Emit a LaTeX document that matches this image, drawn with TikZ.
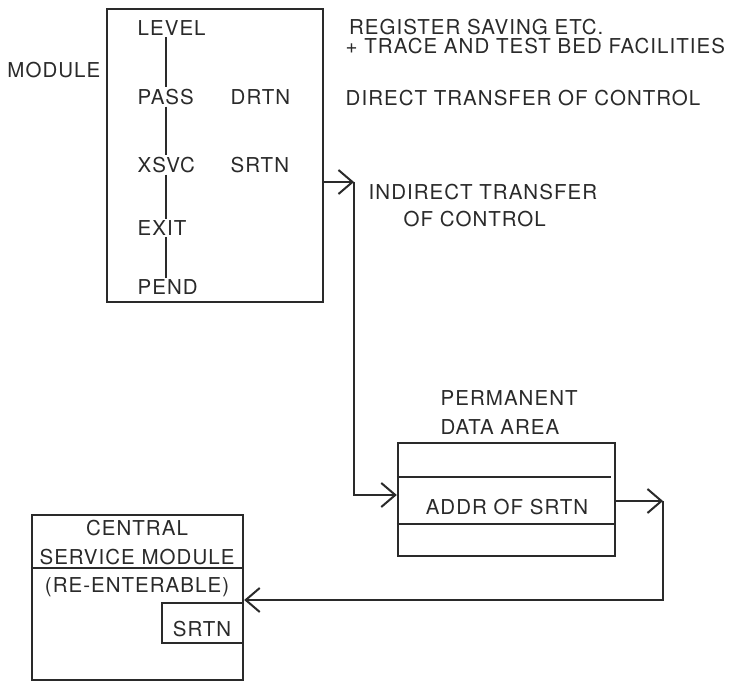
\documentclass[tikz,border=0pt]{standalone}
\usepackage{fontspec}
\setmainfont{TeX Gyre Heros}[LetterSpace=5]
\usetikzlibrary{arrows.meta}
\definecolor{ink}{HTML}{2A2A2A}
\begin{document}
\begin{tikzpicture}[x=1pt,y=-1pt,
  lbl/.style={font=\fontsize{20.5}{19}\selectfont, inner sep=0.5pt, text=ink},
  box/.style={draw=ink, line width=2.4pt, rectangle, inner sep=0pt},
  rule/.style={draw=ink, line width=2.2pt},
  thin/.style={draw=ink, line width=1.4pt},
  conn/.style={draw=ink, line width=2pt, -{Straight Barb[length=14pt,width=24pt,line width=2pt]}},
]
\useasboundingbox[fill=white] (0,0) rectangle (733,684);

% main module box
\node[box, minimum width=216pt, minimum height=293pt] (module) at (215,155.5) {};
\node[lbl, anchor=east] (modlbl) at (101,70) {MODULE};
\node[lbl, anchor=west] (level) at (137,28) {LEVEL};
\node[lbl, anchor=west] (pass) at (137,97) {PASS};
\node[lbl, anchor=west] (drtn) at (230,97) {DRTN};
\node[lbl, anchor=west] (xsvc) at (137,165) {XSVC};
\node[lbl, anchor=west] (srtn) at (230,165) {SRTN};
\node[lbl, anchor=west] (exit) at (137,228) {EXIT};
\node[lbl, anchor=west] (pend) at (137,287) {PEND};
\coordinate (lx) at (166,0);
\draw[thin] ([yshift=-1pt]level.south -| lx) -- ([yshift=1pt]pass.north -| lx);
\draw[thin] ([yshift=-1pt]pass.south -| lx) -- ([yshift=1pt]xsvc.north -| lx);
\draw[thin] ([yshift=-1pt]xsvc.south -| lx) -- ([yshift=1pt]exit.north -| lx);
\draw[thin] ([yshift=-1pt]exit.south -| lx) -- ([yshift=1pt]pend.north -| lx);

% right-hand notes
\node[lbl, anchor=west, align=left] (regs) at (345,37) {\,REGISTER SAVING ETC.\\+ TRACE AND TEST BED FACILITIES};
\node[lbl, anchor=west] (direct) at (345,98) {DIRECT TRANSFER OF CONTROL};
\node[lbl, anchor=west] (ind1) at (368,192) {INDIRECT TRANSFER};
\node[lbl, anchor=west] (ind2) at (403,219) {OF CONTROL};

% permanent data area
\node[lbl, anchor=west] (perm1) at (440,398) {PERMANENT};
\node[lbl, anchor=west] (perm2) at (440,427) {DATA AREA};
\node[box, minimum width=217pt, minimum height=113pt] (data) at (506.5,499.5) {};
\draw[rule] (data.west |- 0,477) -- ([xshift=-5pt]data.east |- 0,477);
\draw[rule] (data.west |- 0,524) -- (data.east |- 0,524);
\node[lbl] (addr) at (507,507) {ADDR OF SRTN};

% central service module
\node[box, minimum width=211pt, minimum height=165pt] (csm) at (137.5,597.5) {};
\draw[rule] (csm.west |- 0,568) -- (csm.east |- 0,568);
\node[lbl] (cen1) at (137,528) {CENTRAL};
\node[lbl] (cen2) at (137,557) {SERVICE MODULE};
\node[lbl] (cen3) at (137,587) {(RE-ENTERABLE)};
\draw[rule] (csm.east |- 0,603) -- (162,603) -- (162,643) -- (csm.east |- 0,643);
\node[lbl] (srtn2) at (202,629) {SRTN};

% connectors
\coordinate (turn1) at (354,182);
\coordinate (turn2) at (663,501);
\draw[conn] (module.east |- turn1) -- (turn1);
\draw[conn] (turn1) |- ([yshift=4.5pt]data.west);
\draw[conn] (data.east |- turn2) -- (turn2);
\draw[conn] (turn2) |- ([yshift=-2.5pt]csm.east);
\end{tikzpicture}
\end{document}
